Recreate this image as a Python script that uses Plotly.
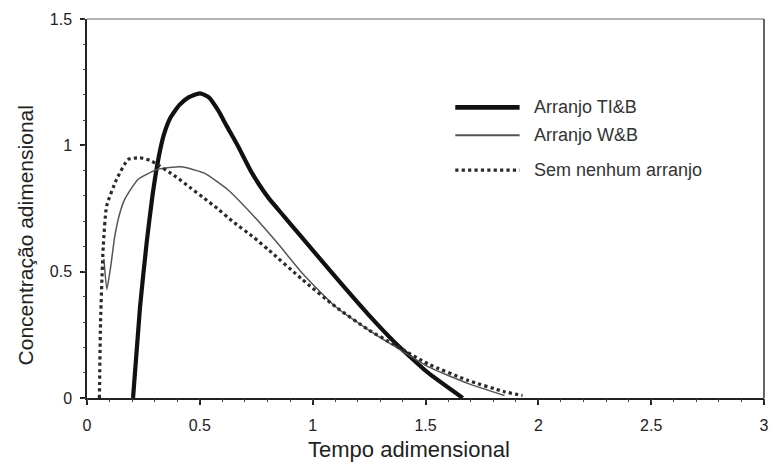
import plotly.graph_objects as go

# Arranjo TI&B (thick solid)
tib_t = [0.204, 0.235, 0.265, 0.29, 0.315, 0.34, 0.37, 0.41, 0.45, 0.5, 0.54, 0.58, 0.62,
         0.667, 0.725, 0.77, 0.806, 0.872, 0.953, 1.1, 1.247, 1.364, 1.511, 1.665]
tib_c = [0.0, 0.36, 0.62, 0.80, 0.94, 1.04, 1.11, 1.16, 1.19, 1.206, 1.19, 1.14, 1.075,
         1.0, 0.90, 0.835, 0.79, 0.72, 0.635, 0.48, 0.33, 0.22, 0.10, 0.0]

# Arranjo W&B (thin solid)
wb_t = [0.075, 0.088, 0.105, 0.123, 0.145, 0.167, 0.226, 0.314, 0.417, 0.52, 0.623,
        0.725, 0.843, 0.953, 1.1, 1.247, 1.364, 1.511, 1.687, 1.85]
wb_c = [0.55, 0.43, 0.52, 0.64, 0.73, 0.786, 0.865, 0.905, 0.915, 0.89, 0.825,
        0.733, 0.614, 0.495, 0.362, 0.27, 0.204, 0.124, 0.058, 0.01]

# Sem nenhum arranjo (dotted)
sem_t = [0.055, 0.06, 0.072, 0.087, 0.131, 0.182, 0.233, 0.285, 0.395, 0.454, 0.52,
         0.578, 0.644, 0.74, 0.806, 0.953, 1.1, 1.247, 1.364, 1.511, 1.687, 1.85, 1.93]
sem_c = [0.0, 0.3, 0.6, 0.76, 0.865, 0.944, 0.951, 0.938, 0.875, 0.835, 0.79,
         0.75, 0.70, 0.635, 0.585, 0.47, 0.362, 0.27, 0.21, 0.135, 0.07, 0.025, 0.01]

series_names = ["Arranjo TI&B", "Arranjo W&B", "Sem nenhum arranjo"]

styles = [
    dict(color="#111111", width=4.2, dash="solid"),
    dict(color="#555555", width=1.5, dash="solid"),
    dict(color="#2a2a2a", width=3.2, dash="dot"),
]

fig = go.Figure()
for (t, c), name, st in zip([(tib_t, tib_c), (wb_t, wb_c), (sem_t, sem_c)], series_names, styles):
    fig.add_trace(go.Scatter(x=t, y=c, mode="lines", name=name,
                             line=dict(shape="spline", smoothing=0.5, **st), showlegend=False))

# empty trace that carries the overlay axes used for the 0.1 minor ticks
fig.add_trace(go.Scatter(x=[], y=[], xaxis="x2", yaxis="y2", showlegend=False, hoverinfo="skip"))

FONT = "Liberation Sans, Arial, sans-serif"
TXT = "#222222"

axis_common = dict(
    showgrid=False, zeroline=False, showline=True, linecolor="#222222", linewidth=1.5,
    ticks="outside", ticklen=5, tickcolor="#222222", tickwidth=1.5,
    tickmode="linear", tick0=0, dtick=0.5,
    tickfont=dict(family=FONT, size=16, color=TXT),
)
minor_axis = dict(
    showgrid=False, zeroline=False, showline=False, showticklabels=False,
    ticks="outside", ticklen=3, tickcolor="#444444", tickwidth=1,
    tickmode="linear", tick0=0, dtick=0.1,
)

fig.update_layout(
    xaxis=dict(range=[0, 3], ticklabelstandoff=7, **axis_common),
    yaxis=dict(range=[0, 1.5], ticklabelstandoff=5, **axis_common),
    xaxis2=dict(range=[0, 3], overlaying="x", anchor="y", side="bottom", **minor_axis),
    yaxis2=dict(range=[0, 1.5], overlaying="y", anchor="x", side="left", **minor_axis),
)

# axis titles
fig.add_annotation(xref="paper", yref="paper", x=0.475, y=-0.135, text="Tempo adimensional",
                   showarrow=False, xanchor="center", yanchor="middle",
                   font=dict(family=FONT, size=22, color=TXT))
fig.add_annotation(xref="paper", yref="paper", x=-0.091, y=0.43, text="Concentração adimensional",
                   showarrow=False, xanchor="center", yanchor="middle", textangle=-90,
                   font=dict(family=FONT, size=21, color=TXT))

# frame: faint top edge, dark right edge
fig.add_shape(type="line", xref="paper", yref="paper", x0=0, x1=1, y0=1, y1=1,
              line=dict(color="#9a9a9a", width=1.5))
fig.add_shape(type="line", xref="paper", yref="paper", x0=1, x1=1, y0=0, y1=1,
              line=dict(color="#333333", width=1.5))

# legend drawn as line samples plus labels
leg_x0, leg_x1, txt_x = 0.544, 0.639, 0.658
leg_rows = [0.767, 0.693, 0.601]
for name, st, yy in zip(series_names, styles, leg_rows):
    fig.add_shape(type="line", xref="paper", yref="paper", x0=leg_x0, x1=leg_x1, y0=yy, y1=yy,
                  line=dict(color=st["color"], width=st["width"] + (0.5 if st["dash"] == "solid" else 0),
                            dash=st["dash"]))
    fig.add_annotation(xref="paper", yref="paper", x=txt_x, y=yy, text=name, showarrow=False,
                       xanchor="left", yanchor="middle",
                       font=dict(family=FONT, size=18, color="#333333"))

fig.update_layout(
    width=775, height=464,
    margin=dict(l=87, r=6, t=19, b=66),
    paper_bgcolor="white", plot_bgcolor="white",
    showlegend=False,
)

fig.write_html("out.html")
